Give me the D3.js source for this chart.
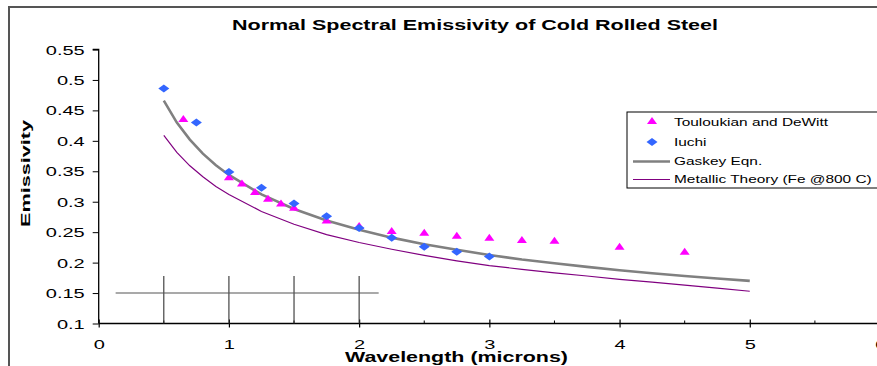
<!DOCTYPE html>
<html>
<head>
<meta charset="utf-8">
<script src="https://cdn.jsdelivr.net/npm/d3@7"></script>
<style>
  html, body { margin: 0; padding: 0; background: #fff; overflow: hidden; }
  svg { display: block; }
  text { font-family: "Liberation Sans", Arial, sans-serif; fill: #000; }
</style>
</head>
<body>
<svg id="chart" width="877" height="366"></svg>
<script>
// ---- data ----
const chartTitle = "Normal Spectral Emissivity of Cold Rolled Steel";
const xTitle = "Wavelength (microns)";
const yTitle = "Emissivity";
const xTicks = [0, 1, 2, 3, 4, 5, 6];
const xMinorTicks = [0.5, 1.5, 2.5, 3.5, 4.5, 5.5];
const yTicks = [0.1, 0.15, 0.2, 0.25, 0.3, 0.35, 0.4, 0.45, 0.5, 0.55];
const yTickLabels = ["0.1", "0.15", "0.2", "0.25", "0.3", "0.35", "0.4", "0.45", "0.5", "0.55"];

const seriesNames = ["Touloukian and DeWitt", "Iuchi", "Gaskey Eqn.", "Metallic Theory (Fe @800 C)"];

const toulX = [0.65, 1.0, 1.1, 1.2, 1.3, 1.4, 1.5, 1.75, 2.0, 2.25, 2.5, 2.75, 3.0, 3.25, 3.5, 4.0, 4.5];
const toulY = [0.436, 0.340, 0.330, 0.316, 0.305, 0.297, 0.290, 0.269, 0.260, 0.252, 0.249, 0.244, 0.241, 0.237, 0.236, 0.226, 0.218];

const iuchiX = [0.5, 0.75, 1.0, 1.25, 1.5, 1.75, 2.0, 2.25, 2.5, 2.75, 3.0];
const iuchiY = [0.486, 0.430, 0.349, 0.323, 0.297, 0.276, 0.257, 0.241, 0.226, 0.218, 0.210];

const curveX = [0.5, 0.6, 0.7, 0.8, 0.9, 1.0, 1.25, 1.5, 1.75, 2.0, 2.25, 2.5, 2.75, 3.0, 3.25, 3.5, 3.75, 4.0, 4.25, 4.5, 4.75, 5.0];
const gaskeyY = [0.466, 0.430, 0.402, 0.379, 0.360, 0.344, 0.312, 0.288, 0.269, 0.254, 0.241, 0.230, 0.221, 0.2125, 0.205, 0.199, 0.193, 0.1875, 0.1825, 0.178, 0.174, 0.170];
const metallicY = [0.409, 0.381, 0.359, 0.341, 0.325, 0.312, 0.284, 0.263, 0.246, 0.233, 0.222, 0.212, 0.203, 0.195, 0.189, 0.183, 0.178, 0.1725, 0.168, 0.163, 0.158, 0.153];

// stray drawing lines in the lower-left of the plot
const strayVX = [0.5, 1.0, 1.5, 2.0];
const strayVTop = 0.178;
const strayHY = 0.15;
const strayHX = [0.13, 2.15];

// ---- layout ----
const svg = d3.select("#chart");
const x = d3.scaleLinear().domain([0, 6]).range([98.7, 880]);
const y = d3.scaleLinear().domain([0.1, 0.55]).range([323.5, 49.5]);

const colMagenta = "#ff00ff", colBlue = "#3366ff", colGray = "#808080", colPurple = "#800080";

function stretch(sel, k) {
  sel.each(function () {
    const w = this.getComputedTextLength();
    d3.select(this).attr("textLength", w * k).attr("lengthAdjust", "spacingAndGlyphs");
  });
}
function fitTo(sel, width) {
  sel.attr("textLength", width).attr("lengthAdjust", "spacingAndGlyphs");
}

// outer frame (top and left edges)
svg.append("line").attr("x1", 9).attr("x2", 877).attr("y1", 7).attr("y2", 7)
  .attr("stroke", "#555").attr("stroke-width", 2);
svg.append("line").attr("x1", 9).attr("x2", 9).attr("y1", 6).attr("y2", 366)
  .attr("stroke", "#555").attr("stroke-width", 2);

// title
svg.append("text").attr("x", 475).attr("y", 30).attr("text-anchor", "middle")
  .attr("font-size", 15).attr("font-weight", "bold").text(chartTitle).call(fitTo, 486);

// y axis
const yAxis = d3.axisLeft(y).tickValues(yTicks).tickSize(6).tickFormat((d, i) => yTickLabels[i]);
const gy = svg.append("g").attr("transform", `translate(${x(0)},0)`).call(yAxis);
gy.select(".domain").attr("stroke", "#000").attr("stroke-width", 1.3).attr("d", `M-6,${y(0.55)}H0V${y(0.1)}`);
gy.selectAll(".tick line").attr("stroke", "#000").attr("stroke-width", 1);
gy.selectAll(".tick text").attr("x", -14).attr("dy", "0.36em")
  .attr("font-size", 12.5).attr("font-family", "Liberation Sans, Arial, sans-serif").call(stretch, 1.6);

// x axis
const xAxis = d3.axisBottom(x).tickValues(xTicks).tickSize(4).tickFormat(d3.format("d"));
const gx = svg.append("g").attr("transform", `translate(0,${y(0.1)})`).call(xAxis);
gx.select(".domain").attr("stroke", "#000").attr("stroke-width", 1.3).attr("d", `M${x(0)},0H877`);
gx.selectAll(".tick line").attr("stroke", "#000").attr("stroke-width", 1.2).attr("y1", -4).attr("y2", 4);
gx.selectAll(".tick text").attr("y", 17).attr("dy", "0.71em")
  .attr("font-size", 12.5).attr("font-family", "Liberation Sans, Arial, sans-serif").call(stretch, 1.6);
gx.selectAll(".minor").data(xMinorTicks).enter().append("line")
  .attr("x1", d => x(d)).attr("x2", d => x(d)).attr("y1", -3).attr("y2", 0)
  .attr("stroke", "#000").attr("stroke-width", 1);

// axis titles
svg.append("text").attr("x", 456.5).attr("y", 362).attr("text-anchor", "middle")
  .attr("font-size", 15).attr("font-weight", "bold").text(xTitle).call(fitTo, 223);
svg.append("text").attr("transform", "translate(29.5,173.5) rotate(-90)").attr("text-anchor", "middle")
  .attr("font-size", 12).attr("font-weight", "bold").text(yTitle).call(fitTo, 107);

// stray lines
const stray = svg.append("g").attr("stroke", "#333").attr("stroke-width", 1.1);
stray.selectAll("line.v").data(strayVX).enter().append("line")
  .attr("x1", d => x(d)).attr("x2", d => x(d)).attr("y1", y(strayVTop)).attr("y2", y(0.1));
stray.append("line").attr("x1", x(strayHX[0])).attr("x2", x(strayHX[1]))
  .attr("y1", y(strayHY)).attr("y2", y(strayHY)).attr("stroke", "#555");

// curves
const line = d3.line().x(d => x(d[0])).y(d => y(d[1]));
svg.append("path").datum(curveX.map((v, i) => [v, metallicY[i]])).attr("d", line)
  .attr("fill", "none").attr("stroke", colPurple).attr("stroke-width", 1.2);
svg.append("path").datum(curveX.map((v, i) => [v, gaskeyY[i]])).attr("d", line)
  .attr("fill", "none").attr("stroke", colGray).attr("stroke-width", 2.6);

// markers
const triPath = "M0,-4L5,3L-5,3Z";
const diaPath = "M0,-4L5.5,0L0,4L-5.5,0Z";
svg.selectAll(".tri").data(toulX.map((v, i) => [v, toulY[i]])).enter().append("path")
  .attr("d", triPath).attr("fill", colMagenta)
  .attr("transform", d => `translate(${x(d[0])},${y(d[1])})`);
svg.selectAll(".dia").data(iuchiX.map((v, i) => [v, iuchiY[i]])).enter().append("path")
  .attr("d", diaPath).attr("fill", colBlue)
  .attr("transform", d => `translate(${x(d[0])},${y(d[1])})`);

// legend
const lg = svg.append("g");
lg.append("rect").attr("x", 627).attr("y", 112).attr("width", 260).attr("height", 76)
  .attr("fill", "#fff").attr("stroke", "#000").attr("stroke-width", 1);
const rows = [122, 142, 161.5, 179.5];
lg.append("path").attr("d", triPath).attr("fill", colMagenta).attr("transform", `translate(652,${rows[0]-1})`);
lg.append("path").attr("d", diaPath).attr("fill", colBlue).attr("transform", `translate(652,${rows[1]})`);
lg.append("line").attr("x1", 633).attr("x2", 670).attr("y1", rows[2]).attr("y2", rows[2])
  .attr("stroke", colGray).attr("stroke-width", 2.6);
lg.append("line").attr("x1", 633).attr("x2", 670).attr("y1", rows[3]).attr("y2", rows[3])
  .attr("stroke", colPurple).attr("stroke-width", 1.2);
lg.selectAll(".lt").data(seriesNames).enter().append("text")
  .attr("x", 674).attr("y", (d, i) => rows[i]).attr("dy", "0.36em")
  .attr("font-size", 11).text(d => d).call(stretch, 1.4);
</script>
</body>
</html>
